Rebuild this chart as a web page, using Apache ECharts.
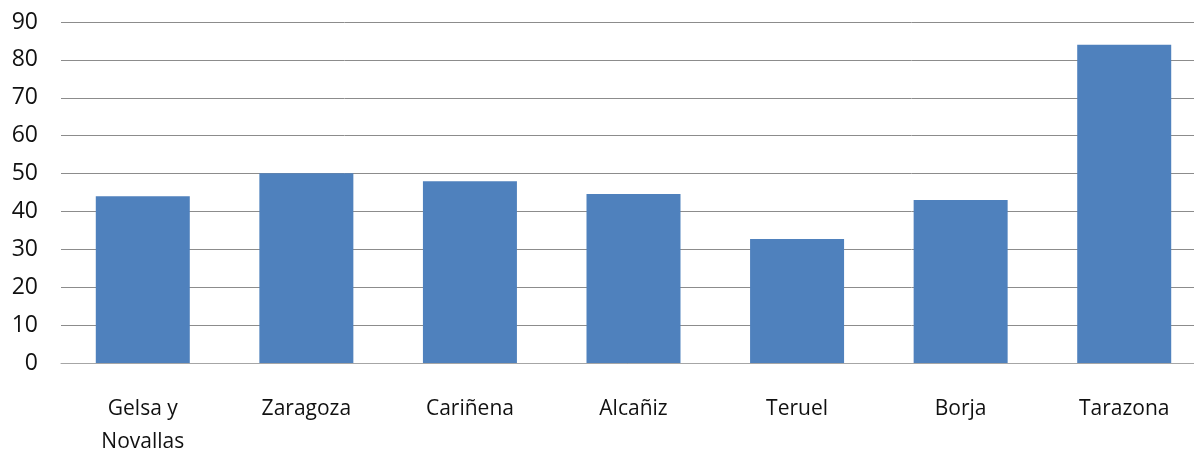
<!DOCTYPE html>
<html>
<head>
<meta charset="utf-8">
<script src="https://cdn.jsdelivr.net/npm/echarts@6/dist/echarts.min.js"></script>
<style>
  html, body { margin: 0; padding: 0; background: #fff; }
  #chart { width: 1194px; height: 450px; }
</style>
</head>
<body>
<div id="chart"></div>
<script>
// categorias (eje x)
const categories = ["Gelsa y\nNovallas", "Zaragoza", "Cariñena", "Alcañiz", "Teruel", "Borja", "Tarazona"];
// valores de las barras
const values = [44, 50.1, 48, 44.6, 32.7, 43, 84];
// eje y
const yMin = 0;
const yMax = 90;
const yStep = 10;

const chart = echarts.init(document.getElementById("chart"));
chart.setOption({
  animation: false,
  grid: {
    left: 61,
    top: 22,
    width: 1145,
    bottom: 87,
    containLabel: false,
    outerBoundsMode: "none",
  },
  xAxis: {
    type: "category",
    data: categories,
    axisTick: { show: false },
    axisLine: { lineStyle: { color: "#a6a6a6", width: 1 } },
    axisLabel: {
      interval: 0,
      margin: 30,
      color: "#111",
      fontFamily: "Open Sans",
      fontSize: 21,
      lineHeight: 33,
    },
  },
  yAxis: {
    type: "value",
    min: yMin,
    max: yMax,
    interval: yStep,
    axisLine: { show: false },
    axisTick: { show: false },
    splitLine: { lineStyle: { color: "#8c8c8c", width: 1 } },
    axisLabel: {
      margin: 23,
      padding: [6, 0, 0, 0],
      color: "#111",
      fontFamily: "Open Sans",
      fontSize: 23,
    },
  },
  series: [
    {
      type: "bar",
      data: values,
      barWidth: 94,
      itemStyle: { color: "#4F81BD" },
    },
  ],
});
</script>
</body>
</html>
